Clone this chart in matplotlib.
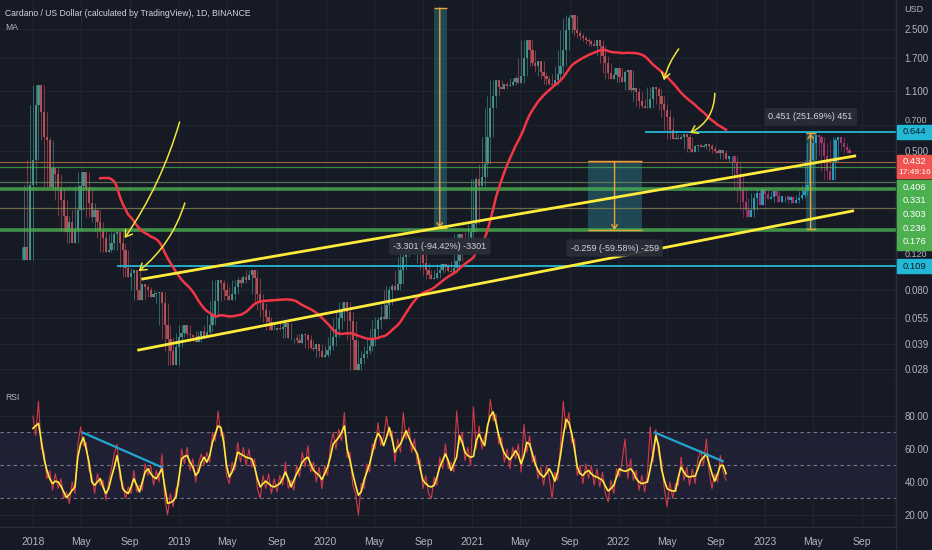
"""Cardano / USD daily chart with MA, channel, levels and RSI pane, TradingView dark style."""

import matplotlib
matplotlib.use("Agg")
import matplotlib.pyplot as plt
import matplotlib.dates as mdates
from matplotlib.patches import Rectangle
from matplotlib.transforms import IdentityTransform
from matplotlib.ticker import NullLocator, FixedLocator
import numpy as np
import pandas as pd

plt.rcParams["font.family"] = ["Liberation Sans Narrow", "Liberation Sans", "DejaVu Sans"]

BG = "#161a25"
GRID = "#212530"
SEP = "#2a2e39"
TEXT = "#b2b5be"
W, H = 932, 550

# ---- data (weekly closes) ----
first_week = "2017-12-04"
closes = [
    0.118, 0.140, 0.118, 0.318, 0.443, 0.915, 1.19, 0.84, 0.600, 0.577,
    0.310, 0.398, 0.37, 0.305, 0.261, 0.21, 0.171, 0.195, 0.148, 0.176,
    0.229, 0.314, 0.378, 0.305, 0.251, 0.209, 0.229, 0.195, 0.174, 0.158,
    0.131, 0.135, 0.148, 0.167, 0.171, 0.148, 0.135, 0.107, 0.0945, 0.0996,
    0.104, 0.080, 0.0697, 0.086, 0.0828, 0.0796, 0.0725, 0.075, 0.0765, 0.0776,
    0.067, 0.050, 0.0418, 0.0355, 0.0295, 0.0375, 0.0428, 0.0451, 0.050, 0.0445,
    0.044, 0.0428, 0.040, 0.0433, 0.0463, 0.0433, 0.0457, 0.050, 0.057, 0.0688,
    0.0908, 0.0872, 0.080, 0.0735, 0.0697, 0.075, 0.0828, 0.0908, 0.0872, 0.0945,
    0.0908, 0.097, 0.104, 0.093, 0.075, 0.067, 0.0611, 0.0557, 0.052, 0.0469,
    0.0469, 0.048, 0.0475, 0.0488, 0.0514, 0.0422, 0.0422, 0.0422, 0.0411, 0.0395,
    0.0445, 0.044, 0.0411, 0.037, 0.0365, 0.039, 0.0355, 0.0328, 0.0337, 0.036,
    0.038, 0.0428, 0.0475, 0.055, 0.0611, 0.068, 0.0596, 0.053, 0.0411, 0.0277,
    0.030, 0.0324, 0.034, 0.0355, 0.038, 0.0418, 0.0475, 0.0535, 0.0557, 0.054,
    0.065, 0.080, 0.084, 0.080, 0.086, 0.104, 0.123, 0.130, 0.139, 0.137,
    0.137, 0.139, 0.128, 0.114, 0.104, 0.097, 0.092, 0.093, 0.0996, 0.104,
    0.112, 0.109, 0.102, 0.101, 0.107, 0.117, 0.167, 0.158, 0.150, 0.154,
    0.171, 0.19, 0.345, 0.314, 0.354, 0.42, 0.600, 0.88, 1.03, 1.27,
    1.16, 1.13, 1.21, 1.18, 1.20, 1.24, 1.31, 1.23, 1.34, 1.71,
    2.16, 1.90, 1.60, 1.54, 1.64, 1.42, 1.34, 1.29, 1.21, 1.20,
    1.27, 1.38, 1.54, 1.90, 2.47, 2.90, 2.99, 2.47, 2.37, 2.28,
    2.21, 2.16, 2.12, 2.04, 2.0, 2.16, 2.0, 1.75, 1.60, 1.40,
    1.29, 1.36, 1.49, 1.33, 1.24, 1.42, 1.45, 1.12, 1.14, 1.09,
    0.966, 0.904, 0.88, 0.88, 0.99, 1.16, 1.13, 1.03, 0.93, 0.858,
    0.782, 0.659, 0.585, 0.59, 0.585, 0.60, 0.625, 0.60, 0.513, 0.493,
    0.533, 0.54, 0.526, 0.533, 0.547, 0.533, 0.513, 0.5, 0.486, 0.506,
    0.486, 0.45,
]
# projected bars pattern drawn after the last real candle
projection = [
    0.47, 0.47, 0.432, 0.368, 0.298, 0.254, 0.229, 0.209, 0.229, 0.268,
    0.287, 0.244, 0.302, 0.284, 0.265, 0.272, 0.295, 0.276, 0.254, 0.276,
    0.276, 0.261, 0.272, 0.251, 0.261, 0.268, 0.280, 0.295, 0.318, 0.443,
    0.555, 0.615, 0.60, 0.555, 0.47, 0.383, 0.34, 0.432, 0.577, 0.60,
    0.555, 0.526, 0.506, 0.486,
]
ma_weeks = 29

rsi_start = "2018-01-01"
rsi_ma = [
    72.5, 74, 75.5, 65, 54, 47, 42, 39, 40.5, 40,
    37.5, 34, 30.5, 32.5, 35, 37, 55, 63, 67, 60,
    52, 40, 38, 40, 42, 37, 33, 36, 43, 49,
    56, 47, 36, 34, 33, 37, 42, 38, 34, 40,
    46, 48, 45, 43, 42, 45, 48, 37, 27, 27.5,
    28.5, 31, 42, 54, 55.5, 56, 52, 49, 44, 46,
    52, 55, 52, 56, 64, 69, 74, 73, 64, 50,
    43, 46, 51, 58, 57, 56, 55, 54.5, 54, 49,
    42, 37, 39, 40.5, 39, 37.5, 37, 38, 39, 42,
    46, 42, 37, 41, 45, 48, 52, 54, 55, 51,
    47, 45.5, 44, 41.5, 45, 49, 55, 63, 65, 67,
    70, 74, 60, 53, 45, 38, 32, 34, 41, 46,
    51, 58, 65, 69.5, 67, 62, 67, 73, 66, 58,
    61, 63, 67, 71, 67, 63, 60, 57, 48, 41,
    39, 37.5, 37, 38, 43, 49, 53, 57, 53, 47,
    51, 55, 68, 64, 58, 56, 55, 55.5, 65, 69,
    65, 62, 74, 80, 82.5, 76, 68.5, 62, 57.5, 55,
    53.5, 56, 59, 56, 51, 56, 64, 63, 57, 51,
    47, 44.5, 43, 45, 48, 45, 40.5, 46, 56, 68,
    78, 76, 69.5, 60, 49, 45, 44, 46, 47, 45,
    43.5, 43, 42, 41, 37.5, 34.5, 36, 38, 43, 48,
    47, 46.5, 47, 48, 46, 42, 40, 39, 39.5, 40,
    48, 57, 68, 62, 48, 41, 36, 35, 34.5, 34.5,
    43, 49, 46, 43.5, 43, 43.5, 43.5, 48, 53, 55,
    57, 51, 45, 40.5, 45, 50, 50, 45,
]
rsi_raw = [
    80, 68, 89, 60, 58, 42, 47, 35, 45, 36,
    42, 30, 34, 27, 40, 33, 62, 73.5, 62, 64,
    47, 44, 33, 45, 38, 41, 29, 40, 48, 57,
    63, 42, 39, 30, 37, 33, 47, 34, 38, 35,
    51, 44, 50, 38, 47, 40, 57, 30, 20, 33,
    25, 36, 38, 60, 51, 61, 47, 54, 40, 51,
    57, 50, 58, 52, 70, 65, 83, 68, 69, 44,
    39, 52, 47, 64, 52, 61, 50, 60, 49, 54,
    36, 30, 44, 36, 45, 33, 42, 34, 44, 38,
    52, 36, 41, 35, 50, 43, 58, 49, 62, 46,
    52, 40, 49, 36, 50, 44, 61, 70, 60, 72,
    65, 82, 55, 58, 38, 33, 20, 39, 36, 51,
    46, 63, 60, 76, 62, 67, 80, 68, 71, 52,
    66, 58, 82, 66, 73, 58, 66, 51, 54, 36,
    44, 33, 30, 43, 38, 55, 48, 63, 48, 52,
    46, 83, 63, 70, 53, 61, 50, 85.6, 60, 74,
    60, 68, 70, 90, 77, 81, 63, 67, 52, 60,
    48, 61, 54, 63, 46, 75, 58, 68, 52, 56,
    42, 49, 38, 50, 43, 30, 46, 41, 62, 89,
    72, 82, 64, 66, 44, 50, 39, 51, 42, 50,
    38, 48, 37, 46, 33, 28, 41, 33, 48, 43,
    53, 66, 42, 54, 41, 47, 35, 44, 34, 45,
    73.5, 52, 72, 57, 53, 36, 25, 40, 30, 39,
    38, 55, 41, 49, 38, 48, 39, 54, 59, 50,
    66, 46, 36, 45, 40, 56, 46, 41,
]

# drawings
channel_upper = (["2018-10-02", "2023-08-13"], [0.092, 0.467])
channel_lower = (["2018-09-22", "2023-08-08"], [0.036, 0.226])
green_thick = [0.303, 0.176]
green_thin = [0.406, 0.331, 0.236]
last_price = 0.432
cyan_levels = [0.644, 0.109]
cyan_starts = ["2022-03-07", "2018-07-29"]
rsi_div_dates = [["2018-05-05", "2018-11-18"], ["2022-04-01", "2022-09-18"]]
rsi_div_vals = [[70, 49], [70, 52.6]]
arrow_from = [("2019-01-02", 0.732), ("2019-01-15", 0.251), ("2022-05-31", 1.92), ("2022-08-29", 1.07)]
arrow_to = [("2018-08-18", 0.158), ("2018-09-22", 0.102), ("2022-04-24", 1.27), ("2022-06-28", 0.633)]
arrow_rad = [-0.08, -0.15, 0.1, -0.3]
boxes = [
    # left, right, arrow x, low, high, label, arrow goes down
    ("2020-09-27", "2020-10-29", "2020-10-12", 0.180, 3.30, "-3.301 (-94.42%) -3301", True),
    ("2021-10-16", "2022-02-28", "2021-12-22", 0.1757, 0.4347, "-0.259 (-59.58%) -259", True),
    ("2023-04-13", "2023-05-08", "2023-04-25", 0.179, 0.630, "0.451 (251.69%) 451", False),
]
price_ticks = [2.5, 1.7, 1.1, 0.7, 0.5, 0.12, 0.08, 0.055, 0.039, 0.028]
month_ticks = pd.to_datetime([
    "2018-01-01", "2018-05-01", "2018-09-01", "2019-01-01", "2019-05-01", "2019-09-01",
    "2020-01-01", "2020-05-01", "2020-09-01", "2021-01-01", "2021-05-01", "2021-09-01",
    "2022-01-01", "2022-05-01", "2022-09-01", "2023-01-01", "2023-05-01", "2023-09-01",
])
month_labels = ["2018", "May", "Sep", "2019", "May", "Sep", "2020", "May", "Sep",
                "2021", "May", "Sep", "2022", "May", "Sep", "2023", "May", "Sep"]


def d(s):
    return mdates.date2num(pd.Timestamp(s))


def candles(ax, x, c, first_open, up_col, dn_col, alpha):
    c = pd.Series(c)
    o = c.shift(1).fillna(first_open)
    hi = c.rolling(5, center=True, min_periods=1).max()
    lo = c.rolling(5, center=True, min_periods=1).min()
    cols = np.where(c >= o, up_col, dn_col)
    ax.vlines(x, lo, hi, colors=cols, lw=0.6, alpha=alpha * 0.8, zorder=3)
    ax.bar(x, (c - o).abs(), bottom=np.minimum(o, c), width=5.6, color=cols,
           alpha=alpha, zorder=3, linewidth=0)


fig = plt.figure(figsize=(W / 100, H / 100), dpi=100, facecolor=BG)
ax = fig.add_axes([0, 1 - 383 / H, 896 / W, 383 / H], facecolor=BG)
ax2 = fig.add_axes([0, 1 - 527 / H, 896 / W, 144 / H], facecolor=BG, sharex=ax)

dates = pd.date_range(first_week, periods=len(closes), freq="7D")
x = mdates.date2num(dates)
pdates = pd.date_range(dates[-1] + pd.Timedelta(days=7), periods=len(projection), freq="7D")
px = mdates.date2num(pdates)

# ---- main pane ----
ax.set_yscale("log")
ax.set_ylim(0.02328, 3.667)
ax.set_xlim(d("2017-10-11"), d("2023-11-24"))

candles(ax, x, closes, closes[0], "#4a9e96", "#c9535c", 0.85)
candles(ax, px, projection, closes[-1], "#27a7c6", "#b0386f", 0.9)

ma = pd.Series(closes).rolling(ma_weeks).mean()
ax.plot(x, ma, color="#f23645", lw=1.8, zorder=5)

for lv in green_thick:
    ax.axhline(lv, color="#4caf50", lw=2.6, alpha=0.8, zorder=4)
for lv, col in zip(green_thin, ["#4caf50", "#6d8f5e", "#8a8a55"]):
    ax.axhline(lv, color=col, lw=0.9, alpha=0.75, zorder=4)
ax.axhline(last_price, color="#9a6338", lw=0.8, zorder=4)
for lv, s in zip(cyan_levels, cyan_starts):
    ax.hlines(lv, d(s), d("2023-11-24"), color="#22b8d6", lw=1.3, zorder=4)

for dd, vv in (channel_upper, channel_lower):
    ax.plot([d(t) for t in dd], vv, color="#ffeb3b", lw=2, zorder=6)

orange = "#e8a33a"
for left, right, xa, low, high, label, down in boxes:
    ax.fill_between([d(left), d(right)], low, high, color="#2a7f8f", alpha=0.45,
                    lw=0, zorder=2)
    ax.hlines([low, high], d(left), d(right), color=orange, lw=1, zorder=4)
    start, end = (high, low) if down else (low, high)
    ax.annotate("", xy=(d(xa), end), xytext=(d(xa), start), zorder=5,
                arrowprops=dict(arrowstyle="->,head_length=0.3,head_width=0.2",
                                color=orange, lw=1, shrinkA=0, shrinkB=0))
    ax.annotate(label, xy=(d(xa), low if down else high),
                xytext=(0, -13 if down else 12), textcoords="offset points",
                ha="center", va="center", fontsize=6.5, color="#d1d4dc", zorder=7,
                bbox=dict(boxstyle="round,pad=0.45,rounding_size=0.2", fc="#2a2e39",
                          ec="none", alpha=0.95))

for (s0, p0), (s1, p1), r in zip(arrow_from, arrow_to, arrow_rad):
    ax.annotate("", xy=(d(s1), p1), xytext=(d(s0), p0), zorder=7,
                arrowprops=dict(arrowstyle="->,head_length=0.45,head_width=0.3",
                                color="#f2e53c", lw=1.1, shrinkA=0, shrinkB=0,
                                connectionstyle=f"arc3,rad={r}"))

ax.yaxis.tick_right()
ax.yaxis.set_major_locator(FixedLocator(price_ticks))
ax.yaxis.set_minor_locator(NullLocator())
ax.set_yticklabels([f"{t:.3f}" for t in price_ticks])
ax.set_xticks(mdates.date2num(month_ticks))
ax.tick_params(axis="y", length=0, pad=6, labelsize=7, labelcolor=TEXT)
ax.tick_params(axis="x", length=0, labelbottom=False)
ax.grid(True, color=GRID, lw=0.8, zorder=0)
# labels that sit right under a price tag are shown only as their top sliver
for t, lab in zip(price_ticks, ax.get_yticklabels()):
    if t in (0.7, 0.12):
        lab.set_va("bottom")
        lab.set_fontsize(6.5)

# ---- RSI pane ----
rdates = mdates.date2num(pd.date_range(rsi_start, periods=len(rsi_ma), freq="7D"))
rdates_raw = mdates.date2num(pd.date_range(rsi_start, periods=len(rsi_raw), freq="7D"))
ax2.set_ylim(12.7, 100)
ax2.axhspan(30, 70, color="#7e57c2", alpha=0.1, lw=0, zorder=1)
for lv in (70, 50, 30):
    ax2.axhline(lv, color="#787b86", lw=0.8, ls=(0, (3, 3)), zorder=2)
ax2.plot(rdates_raw, rsi_raw, color="#d13a48", lw=0.8, zorder=3)
ax2.plot(rdates, rsi_ma, color="#ffeb3b", lw=1.2, zorder=4)
for dd, vv in zip(rsi_div_dates, rsi_div_vals):
    ax2.plot([d(t) for t in dd], vv, color="#22a6d0", lw=1.6, zorder=5)

ax2.yaxis.tick_right()
ax2.set_yticks([20, 40, 60, 80])
ax2.set_yticklabels(["20.00", "40.00", "60.00", "80.00"])
ax2.set_xticks(mdates.date2num(month_ticks))
ax2.set_xticklabels(month_labels)
ax2.tick_params(axis="y", length=0, pad=6, labelsize=7, labelcolor=TEXT)
ax2.tick_params(axis="x", length=0, pad=7, labelsize=7.5, labelcolor=TEXT)
ax2.grid(True, color=GRID, lw=0.8, zorder=0)

for a in (ax, ax2):
    for side in ("top", "left"):
        a.spines[side].set_visible(False)
    for side in ("bottom", "right"):
        a.spines[side].set_color(SEP)
        a.spines[side].set_linewidth(1)

# ---- header texts ----
fig.text(5 / W, 1 - 14 / H, "Cardano / US Dollar (calculated by TradingView), 1D, BINANCE",
         fontsize=6.2, color="#d1d4dc", va="center")
fig.text(5 / W, 1 - 28 / H, "MA", fontsize=6.2, color=TEXT, va="center")
fig.text(5 / W, 1 - 397 / H, "RSI", fontsize=6.2, color=TEXT, va="center")
fig.text(904 / W, 1 - 10 / H, "USD", fontsize=6.5, color=TEXT, va="center")
fig.add_artist(plt.Line2D([896 / W, 896 / W], [0, 1], color=SEP, lw=1))

# ---- price axis tags ----
ident = IdentityTransform()


def tag(y_top, h, color):
    fig.add_artist(Rectangle((897, H - y_top - h), W - 897, h, transform=ident,
                             color=color, zorder=10))


def tag_text(y, s, color, size=6.8):
    fig.text((897 + W) / 2, H - y, s, transform=ident, fontsize=size, color=color,
             ha="center", va="center", zorder=11)


def level_y(p):
    return H - ax.transData.transform((x[0], p))[1]


for lv in cyan_levels:
    yc = level_y(lv)
    tag(yc - 7, 14, "#22b8d6")
    tag_text(yc, f"{lv:.3f}", "#0e1a26")

yr = level_y(last_price)
tag(yr - 7, 23, "#f05350")
tag_text(yr, f"{last_price:.3f}", "white")
tag_text(yr + 11, "17:49:16", "white", size=6)

stack = sorted(green_thick + green_thin, reverse=True)
g_top = yr + 18
tag(g_top, 13.6 * len(stack) + 2, "#4caf50")
for i, lv in enumerate(stack):
    tag_text(g_top + 7.5 + 13.6 * i, f"{lv:.3f}", "white")

fig.savefig("out.png", dpi=100, facecolor=BG)
